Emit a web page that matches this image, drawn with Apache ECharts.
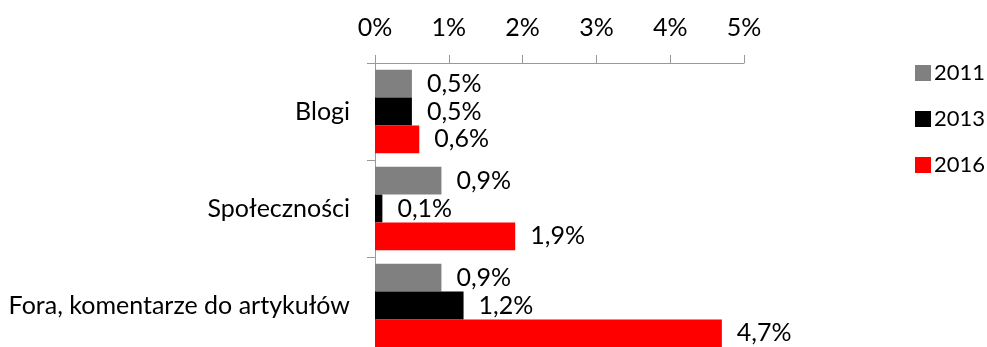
<!DOCTYPE html>
<html><head><meta charset="utf-8">
<script src="https://cdn.jsdelivr.net/npm/echarts@6/dist/echarts.min.js"></script>
<style>html,body{margin:0;padding:0;background:#fff}#c{width:987px;height:347px}</style>
</head><body><div id="c"></div>
<script>
const categories = ['Blogi', 'Społeczności', 'Fora, komentarze do artykułów'];
const years = ['2011', '2013', '2016'];
const v2011 = [0.5, 0.9, 0.9];
const v2013 = [0.5, 0.1, 1.2];
const v2016 = [0.6, 1.9, 4.7];
const ticks = [0, 1, 2, 3, 4, 5];
const colors = ['#808080', '#000000', '#ff0000'];

const FONT = 'Lato';
const W = 400;
const chart = echarts.init(document.getElementById('c'), null, {renderer: 'canvas'});
const fmt = v => String(v).replace('.', ',') + '%';
const seriesData = [v2011, v2013, v2016];
chart.setOption({
  animation: false,
  textStyle: {fontFamily: FONT, fontWeight: W, color: '#000'},
  grid: {left: 375, right: 243, top: 63, height: 291, containLabel: false, outerBoundsMode: 'none'},
  legend: {
    orient: 'vertical', left: 910, top: 57, itemGap: 24, itemWidth: 16, itemHeight: 16,
    icon: 'rect',
    textStyle: {fontFamily: FONT, fontWeight: W, fontSize: 22, color: '#000', padding: [0,0,0,-2]},
    data: years
  },
  xAxis: {
    type: 'value', position: 'top', min: ticks[0], max: ticks[ticks.length-1], interval: 1,
    axisLine: {show: true, lineStyle: {color: '#999', width: 1}},
    axisTick: {show: true, length: 8, lineStyle: {color: '#999'}},
    splitLine: {show: false},
    axisLabel: {formatter: '{value}%', fontSize: 25, fontFamily: FONT, fontWeight: W, color: '#000', margin: 23}
  },
  yAxis: {
    type: 'category', inverse: true, data: categories,
    axisLine: {show: true, lineStyle: {color: '#999', width: 1}},
    axisTick: {show: true, length: 8, lineStyle: {color: '#999'}},
    axisLabel: {fontSize: 25, fontFamily: FONT, fontWeight: W, color: '#000', margin: 25}
  },
  series: years.map((y, i) => ({
    name: y, type: 'bar', data: seriesData[i],
    barGap: '0%', barCategoryGap: '14%',
    itemStyle: {color: colors[i]},
    label: {show: true, position: 'right', distance: 15, formatter: p => fmt(p.value),
      fontSize: 25, fontFamily: FONT, fontWeight: W, color: '#000'}
  }))
});
</script></body></html>
